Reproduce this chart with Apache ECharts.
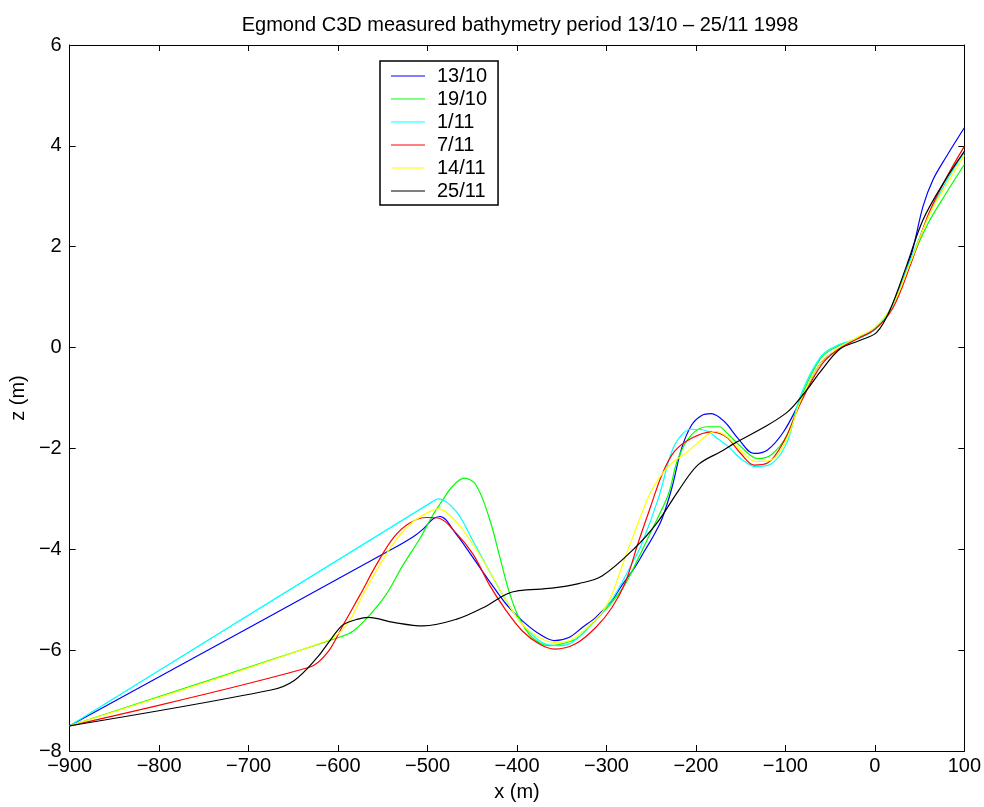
<!DOCTYPE html>
<html>
<head>
<meta charset="utf-8">
<script src="https://cdn.jsdelivr.net/npm/echarts@6/dist/echarts.min.js"></script>
<style>
  html, body { margin: 0; padding: 0; background: #fff; }
  #chart { width: 984px; height: 807px; }
</style>
</head>
<body>
<div id="chart"></div>
<script>
// profiles, [x (m), z (m)]
const p1310 = [[-900, -7.5], [-540, -4.0], [-516, -3.75], [-505, -3.6], [-494, -3.4], [-486, -3.35], [-468, -3.7], [-449, -4.17], [-431, -4.63], [-412, -5.09], [-394, -5.42], [-375, -5.68], [-358, -5.81], [-342, -5.75], [-327, -5.55], [-312, -5.35], [-294, -5.02], [-283, -4.72], [-268, -4.35], [-257, -4.02], [-248, -3.75], [-238, -3.4], [-227, -2.79], [-216, -2.0], [-205, -1.54], [-194, -1.35], [-183, -1.31], [-168, -1.47], [-153, -1.8], [-135, -2.1], [-120, -2.03], [-102, -1.67], [-83, -1.05], [-60, -0.3], [-40, -0.02], [-20, 0.18], [0, 0.37], [20, 0.85], [40, 1.8], [54, 2.81], [65, 3.33], [80, 3.79], [100, 4.36]]
const p1910 = [[-900, -7.5], [-601, -5.76], [-583, -5.62], [-564, -5.29], [-546, -4.89], [-527, -4.3], [-508, -3.77], [-495, -3.35], [-483, -3.02], [-472, -2.75], [-459, -2.59], [-446, -2.72], [-431, -3.38], [-420, -4.1], [-409, -4.83], [-398, -5.35], [-383, -5.75], [-364, -5.91], [-353, -5.89], [-334, -5.78], [-320, -5.55], [-294, -5.05], [-280, -4.72], [-265, -4.2], [-250, -3.64], [-231, -2.92], [-220, -2.2], [-205, -1.73], [-187, -1.57], [-174, -1.57], [-165, -1.7], [-150, -1.96], [-131, -2.2], [-116, -2.13], [-98, -1.73], [-83, -1.0], [-60, -0.2], [-40, 0.04], [-20, 0.18], [0, 0.36], [20, 0.85], [40, 1.7], [60, 2.48], [80, 3.07], [100, 3.63]]
const p0111 = [[-900, -7.5], [-494, -3.05], [-488, -3.0], [-468, -3.25], [-449, -3.84], [-431, -4.43], [-412, -5.02], [-394, -5.49], [-372, -5.85], [-355, -5.91], [-342, -5.88], [-320, -5.55], [-294, -5.0], [-272, -4.3], [-261, -3.91], [-242, -2.99], [-227, -2.06], [-216, -1.73], [-205, -1.62], [-190, -1.64], [-174, -1.83], [-164, -1.96], [-150, -2.2], [-133, -2.36], [-116, -2.31], [-98, -1.87], [-83, -0.95], [-60, -0.17], [-40, 0.06], [-20, 0.17], [0, 0.36], [20, 0.85], [40, 1.75], [60, 2.6], [80, 3.3], [100, 3.87]]
const p0711 = [[-900, -7.5], [-632, -6.34], [-612, -6.05], [-594, -5.49], [-575, -4.89], [-557, -4.3], [-538, -3.77], [-520, -3.48], [-501, -3.37], [-488, -3.38], [-468, -3.68], [-449, -4.1], [-431, -4.7], [-412, -5.22], [-394, -5.62], [-375, -5.88], [-358, -5.98], [-335, -5.88], [-312, -5.55], [-294, -5.16], [-279, -4.66], [-264, -3.84], [-250, -3.12], [-238, -2.52], [-224, -2.06], [-205, -1.8], [-183, -1.67], [-174, -1.7], [-164, -1.8], [-150, -2.1], [-135, -2.33], [-120, -2.29], [-102, -1.87], [-83, -1.1], [-60, -0.35], [-40, -0.02], [-20, 0.17], [0, 0.36], [20, 0.78], [40, 1.65], [60, 2.65], [80, 3.37], [100, 3.99]]
const p1411 = [[-900, -7.5], [-612, -5.81], [-590, -5.49], [-572, -4.89], [-553, -4.3], [-535, -3.81], [-516, -3.45], [-494, -3.22], [-488, -3.2], [-468, -3.45], [-449, -3.91], [-431, -4.43], [-412, -5.02], [-394, -5.49], [-375, -5.75], [-358, -5.85], [-340, -5.8], [-320, -5.52], [-305, -5.25], [-294, -4.9], [-283, -4.35], [-268, -3.64], [-250, -2.85], [-231, -2.36], [-209, -2.06], [-187, -1.73], [-178, -1.66], [-165, -1.77], [-150, -2.04], [-133, -2.26], [-116, -2.23], [-98, -1.8], [-83, -1.05], [-60, -0.3], [-40, 0.0], [-20, 0.2], [0, 0.4], [20, 0.85], [40, 1.7], [60, 2.6], [80, 3.23], [100, 3.81]]
const p2511 = [[-900, -7.5], [-675, -6.79], [-649, -6.6], [-623, -6.14], [-612, -5.88], [-601, -5.62], [-594, -5.49], [-579, -5.39], [-566, -5.35], [-538, -5.45], [-505, -5.52], [-468, -5.39], [-438, -5.16], [-412, -4.89], [-398, -4.82], [-361, -4.77], [-331, -4.68], [-305, -4.53], [-268, -3.97], [-242, -3.44], [-220, -2.85], [-198, -2.33], [-172, -2.06], [-157, -1.9], [-120, -1.54], [-100, -1.31], [-90, -1.14], [-76, -0.84], [-61, -0.48], [-39, -0.03], [-17, 0.14], [2, 0.3], [17, 0.75], [35, 1.6], [54, 2.54], [78, 3.3], [100, 3.89]]

const names = ['13/10', '19/10', '1/11', '7/11', '14/11', '25/11']
const profiles = [p1310, p1910, p0111, p0711, p1411, p2511]
const colors = ['#0000ff', '#00ff00', '#00ffff', '#ff0000', '#ffff00', '#000000']

const FONT = 'Liberation Sans'
const minus = v => String(v).replace('-', '\u2212')

const chart = echarts.init(document.getElementById('chart'), null, { renderer: 'canvas' })

const axisCommon = {
  type: 'value',
  axisLine: { show: true, onZero: false, lineStyle: { color: '#000', width: 1 } },
  axisTick: { show: true, inside: true, length: 6, lineStyle: { color: '#000' } },
  splitLine: { show: false }
}

chart.setOption({
  backgroundColor: '#fff',
  animation: false,
  title: {
    text: 'Egmond C3D measured bathymetry period 13/10 \u2013 25/11 1998',
    left: 515,
    top: 10,
    textAlign: 'center',
    textStyle: { fontFamily: FONT, fontSize: 20, fontWeight: 'normal', color: '#000' }
  },
  grid: { left: 64, right: 19, top: 45, bottom: 53 },
  legend: {
    orient: 'vertical',
    left: 380,
    top: 61,
    data: names,
    icon: 'rect',
    borderColor: '#000',
    borderWidth: 1.5,
    backgroundColor: '#fff',
    padding: [5, 11, 4, 11],
    itemGap: 3,
    itemWidth: 34,
    itemHeight: 1.2,
    textStyle: { fontFamily: FONT, fontSize: 20, color: '#000', lineHeight: 20, padding: [0, 0, 0, 7] }
  },
  xAxis: [
    Object.assign({}, axisCommon, {
      min: -900, max: 100, interval: 100,
      position: 'bottom',
      name: 'x (m)', nameLocation: 'middle', nameGap: 31,
      nameTextStyle: { fontFamily: FONT, fontSize: 20, color: '#000' },
      axisLabel: { fontFamily: FONT, fontSize: 20, color: '#000', margin: 5, formatter: minus }
    }),
    Object.assign({}, axisCommon, {
      min: -900, max: 100, interval: 100,
      position: 'top',
      axisLabel: { show: false }
    })
  ],
  yAxis: [
    Object.assign({}, axisCommon, {
      min: -8, max: 6, interval: 2,
      position: 'left',
      name: 'z (m)', nameLocation: 'middle', nameGap: 30,
      nameTextStyle: { fontFamily: FONT, fontSize: 20, color: '#000' },
      axisLabel: { fontFamily: FONT, fontSize: 20, color: '#000', margin: 8, formatter: minus }
    }),
    Object.assign({}, axisCommon, {
      min: -8, max: 6, interval: 2,
      position: 'right',
      axisLabel: { show: false }
    })
  ],
  series: profiles.map((p, i) => ({
    name: names[i],
    type: 'line',
    data: p,
    xAxisIndex: 0,
    yAxisIndex: 0,
    symbol: 'none',
    smooth: 0.35,
    color: colors[i],
    lineStyle: { color: colors[i], width: 1.2 }
  }))
})
</script>
</body>
</html>
